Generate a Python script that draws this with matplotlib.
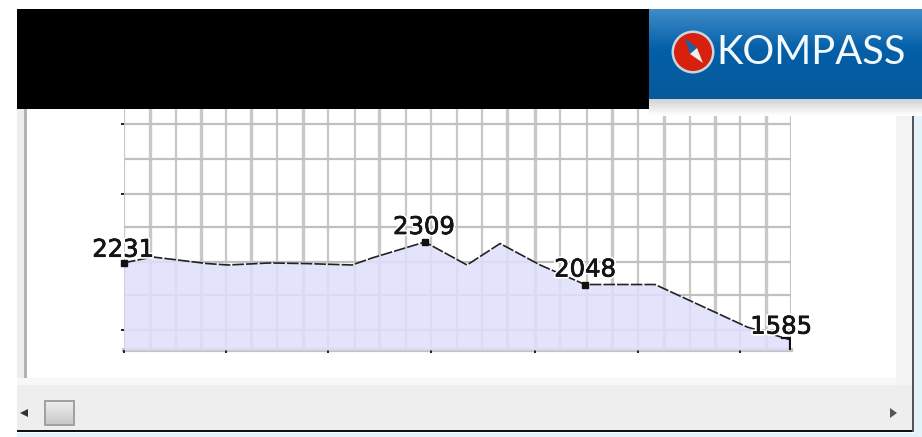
import matplotlib
matplotlib.use("Agg")
import matplotlib.pyplot as plt
from matplotlib.patches import Rectangle, Circle, Polygon
import matplotlib.patheffects as pe
import numpy as np

W, H = 922, 437

# Data (x in month-like grid units, y in chart units)
x_vals = [0, 1.13, 3.24, 4.05, 5.69, 7.06, 8.89, 9.67, 11.73, 13.37, 14.66, 16.22, 17.97, 20.7, 24.29, 25.96]
y_vals = [2231, 2279, 2224, 2212, 2229, 2224, 2212, 2271, 2405, 2212, 2392, 2212, 2048, 2048, 1691, 1585]
marker_x = [0, 11.73, 17.97]
marker_y = [2231, 2405, 2048]
label_texts = ["2231", "2309", "2048", "1585"]
label_x = [0, 11.73, 17.97, 25.96]
label_y = [2231, 2405, 2048, 1585]
label_off = [(-1, 13), (-1, 15), (0, 15), (-9, 13)]
grid_x = [0, 1.01, 2.03, 3.02, 3.99, 4.97, 5.98, 6.96, 7.97, 8.99, 9.94, 10.99, 11.97, 12.98, 13.96,
          14.93, 16.02, 17.0, 18.04, 19.03, 20.04, 21.03, 22.05, 23.03, 24.0, 25.01, 26.0]
grid_x_lw = [1.6, 2.4, 1.6, 2.4, 1.6, 2.4, 1.6, 2.4, 1.6, 1.6, 2.4, 1.6, 1.6, 1.6, 1.6,
             2.4, 2.4, 1.6, 1.6, 2.4, 1.6, 2.4, 1.6, 2.4, 1.6, 2.4, 1.6]
grid_y = [1670, 1960, 2237, 2531, 2808, 3102, 3396]
tick_x = [0, 3.99, 7.97, 11.97, 16.02, 20.04, 24.0]
tick_y = [1670, 2808, 3396]
logo_text = "KOMPASS"

plt.rcParams["font.family"] = ["DejaVu Sans"]
fig = plt.figure(figsize=(W / 100, H / 100), dpi=100, facecolor="white")

def box(l, t, r, b):
    return [l / W, 1 - b / H, (r - l) / W, (b - t) / H]

# Window background behind the chart
bg = fig.add_axes([0, 0, 1, 1], zorder=1)
bg.set_xlim(0, W)
bg.set_ylim(H, 0)
bg.axis("off")
bg.add_patch(Rectangle((17, 109), 8, 276, color="#eeeeee", lw=0))
bg.add_patch(Rectangle((24, 109), 2.5, 270, color="#b2b2b2", lw=0))
bg.add_patch(Rectangle((896, 109), 17, 276, color="#f3f3f3", lw=0))
bg.add_patch(Rectangle((914, 116), 8, 321, color="#e4f3fa", lw=0))
bg.add_patch(Rectangle((17, 378), 879, 7, color="#f8f8f8", lw=0))

# Chart
ax = fig.add_axes(box(124, 109, 791, 350), zorder=2)
ax.set_xlim(0, 26)
ax.set_ylim(1498, 3522)
ax.patch.set_alpha(0)
for s in ax.spines.values():
    s.set_visible(False)
ax.set_xticks(tick_x)
ax.set_yticks(tick_y)
ax.set_xticklabels([])
ax.set_yticklabels([])
ax.tick_params(axis="both", length=2.5, width=1.4, color="#222222", pad=1)
ax.xaxis.set_tick_params(direction="out")
for gx, lw in zip(grid_x, grid_x_lw):
    ax.axvline(gx, color="#c8c8c8", lw=lw, zorder=1)
for gy in grid_y:
    ax.axhline(gy, color="#c0c0c0", lw=1.6, zorder=1)
ax.axhline(1498, color="#c2c2c2", lw=3, zorder=1, clip_on=False)
ax.fill_between(x_vals, y_vals, 1498, color="#dfdffb", alpha=0.85, lw=0, zorder=2)
ax.plot(x_vals, y_vals, color="#222222", lw=1.2, ls=(0, (7, 1.2)), zorder=3)
ax.plot(marker_x, marker_y, ls="none", marker="s", ms=4.5, color="#111111", zorder=4, clip_on=False)
ax.plot([x_vals[-1] - 0.3, x_vals[-1], x_vals[-1]], [y_vals[-1] + 12, y_vals[-1] + 12, 1510],
        color="#111111", lw=1.6, zorder=7)
for t, lx, ly, off in zip(label_texts, label_x, label_y, label_off):
    ax.annotate(t, (lx, ly), xytext=off, textcoords="offset pixels", ha="center", va="center",
                fontsize=17.5, color="#151515", zorder=6, annotation_clip=False,
                path_effects=[pe.withStroke(linewidth=3, foreground="white"),
                              pe.withStroke(linewidth=0.5, foreground="#151515")])

# Surrounding screenshot furniture, drawn in pixel coordinates
ov = fig.add_axes([0, 0, 1, 1], zorder=3)
ov.set_xlim(0, W)
ov.set_ylim(H, 0)
ov.axis("off")
ov.patch.set_alpha(0)
# black block
ov.add_patch(Rectangle((17, 9), 632, 100, color="black", lw=0))
# logo shadow
shadow = np.linspace(0.82, 1, 30)[:, None]
ov.imshow(shadow, extent=(649, 922, 116, 99), cmap="gray", vmin=0, vmax=1, aspect="auto", zorder=1)
# logo gradient
c0 = np.array([0x3f, 0x8c, 0xc8]) / 255
c1 = np.array([0x03, 0x5f, 0xa8]) / 255
c2 = np.array([0x07, 0x5a, 0x9a]) / 255
t = np.linspace(0, 1, 90)[:, None, None]
grad = np.where(t < 0.45, c0 + (c1 - c0) * (t / 0.45), c1 + (c2 - c1) * ((t - 0.45) / 0.55))
ov.imshow(grad, extent=(649, 922, 99, 9), aspect="auto", zorder=1)
ov.add_patch(Circle((693, 52), 21.5, color="#c9d6df", lw=0, zorder=2))
ov.add_patch(Circle((693, 52), 19, color="#d8200f", lw=0, zorder=3))
ov.add_patch(Polygon([[685, 38], [697, 48], [690, 54]], color="#1c5fa8", lw=0, zorder=4))
ov.add_patch(Polygon([[703, 63], [697, 48], [690, 54]], color="#eeeeee", lw=0, zorder=4))
ov.text(716, 52, logo_text, color="#f4f9fd", fontsize=28.7, family="Lato", va="center", ha="left", zorder=5)
# scrollbar
ov.add_patch(Rectangle((17, 385), 896, 46, color="#eeeeee", lw=0))
thumb = np.linspace(0.93, 0.78, 25)[:, None]
ov.imshow(thumb, extent=(45, 74, 425, 401), cmap="gray", vmin=0, vmax=1, aspect="auto", zorder=1)
ov.add_patch(Rectangle((45, 401), 29, 24, facecolor="none", edgecolor="#a0a0a0", lw=1.4, zorder=2))
ov.add_patch(Polygon([[20, 413], [28, 409], [28, 417]], color="#333333", lw=0))
ov.add_patch(Polygon([[897, 413], [890, 408], [890, 418]], color="#555555", lw=0))
# window edge
ov.add_patch(Rectangle((17, 430), 897, 2, color="#111111", lw=0))
ov.add_patch(Rectangle((912, 116), 2, 316, color="#555555", lw=0))
ov.add_patch(Rectangle((17, 433), 905, 4, color="#e4f3fa", lw=0))
ov.set_xlim(0, W)
ov.set_ylim(H, 0)

fig.savefig("out.png", dpi=100)
